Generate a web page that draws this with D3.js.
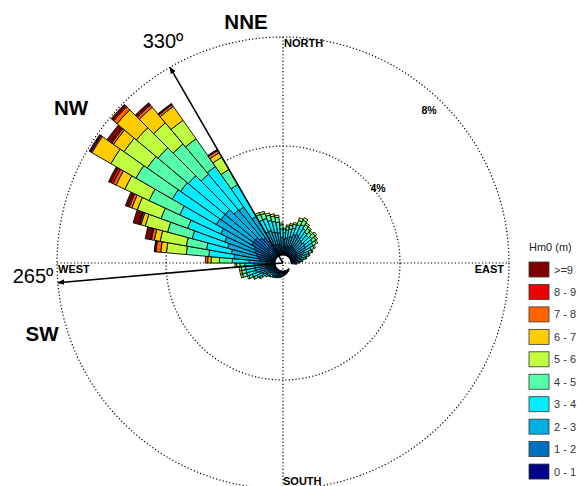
<!DOCTYPE html>
<html>
<head>
<meta charset="utf-8">
<script src="https://cdn.jsdelivr.net/npm/d3@7"></script>
<style>
  body { margin: 0; background: #fff; }
  svg { display: block; }
  text { font-family: "Liberation Sans", Arial, Helvetica, sans-serif; }
</style>
</head>
<body>
<svg id="chart" width="577" height="486"></svg>
<script>
// Direction bins (degrees, compass, bin centres; each bin 5 degrees wide)
const directions = [
  2.5, 7.5, 12.5, 17.5, 22.5, 27.5, 32.5, 37.5, 42.5, 47.5, 52.5, 57.5,
  62.5, 67.5, 72.5, 77.5, 82.5, 87.5, 92.5, 97.5, 102.5, 107.5, 112.5, 117.5,
  122.5, 127.5, 132.5, 137.5, 142.5, 147.5, 152.5, 157.5, 162.5, 167.5, 172.5, 177.5,
  182.5, 187.5, 192.5, 197.5, 202.5, 207.5, 212.5, 217.5, 222.5, 227.5, 232.5, 237.5,
  242.5, 247.5, 252.5, 257.5, 262.5, 267.5, 272.5, 277.5, 282.5, 287.5, 292.5, 297.5,
  302.5, 307.5, 312.5, 317.5, 322.5, 327.5, 332.5, 337.5, 342.5, 347.5, 352.5, 357.5
];

// Frequency of occurrence (%) per Hm0 class and direction bin
const hm0_0_1 = [
  .05,.05,.06,.06,.07,.07,.07,.06,.06,.06,.06,.06,.05,.04,.04,.03,.02,.02,
  .03,0,0,0,0,0,0,0,0,.01,.01,.01,.01,.02,.02,.02,.02,.02,
  .03,.03,.03,.03,.03,.03,.03,.04,.04,.04,.03,.04,.05,.05,.06,.06,.06,.06,
  .03,.02,.03,.03,.03,.05,.10,.10,.10,.07,.04,.02,.07,.07,.07,.07,.07,.05
];
const hm0_1_2 = [
  .22,.25,.26,.28,.32,.34,.31,.29,.28,.29,.28,.26,.22,.19,.16,.13,.10,.07,
  .08,0,0,0,0,0,0,0,0,.01,.02,.03,.03,.04,.04,.05,.06,.06,
  .07,.08,.09,.09,.10,.11,.11,.12,.13,.14,.11,.16,.20,.24,.29,.29,.29,.30,
  .30,.56,.62,.69,.76,.83,.93,.93,.93,.83,.78,.62,.38,.38,.35,.33,.31,.25
];
const hm0_2_3 = [
  .30,.33,.35,.37,.43,.45,.42,.40,.37,.40,.37,.35,.31,.27,.22,.18,.13,.10,
  .07,0,0,0,0,0,0,0,0,.01,.01,.02,.03,.03,.04,.05,.05,.06,
  .06,.07,.08,.09,.10,.10,.11,.12,.13,.14,.15,.22,.28,.33,.40,.40,.40,.40,
  .62,.93,.98,1.09,1.19,1.35,1.50,1.45,1.45,1.35,1.40,1.04,.52,.52,.48,.46,.44,.35
];
const hm0_3_4 = [
  .25,.29,.31,.32,.38,.40,.36,.34,.32,.34,.32,.31,.26,.23,.19,.15,.11,.09,
  .04,0,0,0,0,0,0,0,0,.01,.01,.01,.01,.01,.02,.02,.03,.03,
  .03,.03,.04,.04,.04,.05,.05,.05,.06,.07,.13,.19,.24,.29,.34,.34,.34,.35,
  .62,.93,.93,1.35,1.45,1.66,1.87,1.81,1.76,1.71,1.81,1.35,.48,.48,.43,.40,.39,.31
];
const hm0_4_5 = [
  .12,.13,.14,.15,.17,.18,.17,.16,.15,.16,.15,.14,.13,.11,.09,.07,.06,.04,
  0,0,0,0,0,0,0,0,0,0,0,0,0,0,0,0,0,.01,
  .01,.01,.01,.02,.02,.02,.03,.03,.03,.04,.07,.09,.11,.13,.16,.16,.16,.18,
  .47,.83,.75,.93,1.04,1.24,1.54,1.50,1.45,1.45,1.24,.64,.23,.20,.20,.20,.18,.15
];
const hm0_5_6 = [
  .05,.06,.06,.07,.10,.10,.07,.07,.07,.07,.07,.06,.05,.04,.03,.03,.02,.01,
  0,0,0,0,0,0,0,0,0,0,0,0,0,0,0,0,0,0,
  0,0,0,0,0,0,0,0,0,0,.02,.03,.04,.06,.07,.07,.07,.12,
  .31,.73,.97,.85,.93,.98,1.06,1.04,1.04,1.01,.83,.52,.08,.08,.08,.08,.08,.07
];
const hm0_6_7 = [
  0,0,0,0,0,0,0,0,0,0,0,0,0,0,0,0,0,0,
  0,0,0,0,0,0,0,0,0,0,0,0,0,0,0,0,0,0,
  0,0,0,0,0,0,0,0,0,0,0,0,0,0,0,0,0,.06,
  .12,.21,.22,.16,.21,.36,.80,.47,.93,.75,.62,.19,0,0,0,0,0,0
];
const hm0_7_8 = [
  0,0,0,0,0,0,0,0,0,0,0,0,0,0,0,0,0,0,
  0,0,0,0,0,0,0,0,0,0,0,0,0,0,0,0,0,0,
  0,0,0,0,0,0,0,0,0,0,0,0,0,0,0,0,0,0,
  .09,.18,.11,.05,.10,.12,.05,.08,.16,.10,.08,.10,0,0,0,0,0,0
];
const hm0_8_9 = [
  0,0,0,0,0,0,0,0,0,0,0,0,0,0,0,0,0,0,
  0,0,0,0,0,0,0,0,0,0,0,0,0,0,0,0,0,0,
  0,0,0,0,0,0,0,0,0,0,0,0,0,0,0,0,0,0,
  0,.04,.04,.04,.07,.10,.02,.05,.05,.05,.03,.03,0,0,0,0,0,0
];
const hm0_9_up = [
  0,0,0,0,0,0,0,0,0,0,0,0,0,0,0,0,0,0,
  0,0,0,0,0,0,0,0,0,0,0,0,0,0,0,0,0,0,
  0,0,0,0,0,0,0,0,0,0,0,0,0,0,0,0,0,0,
  0,.02,.19,.21,.08,.08,.05,.16,.07,.06,.02,.01,0,0,0,0,0,0
];

const classLabels = ["0 - 1", "1 - 2", "2 - 3", "3 - 4", "4 - 5", "5 - 6", "6 - 7", "7 - 8", "8 - 9", ">=9"];
const classColors = ["#000088", "#0070c0", "#00b0e0", "#00eeff", "#55ffaa", "#c0ff40", "#ffcc00", "#ff6600", "#ee0000", "#800000"];
const classSeries = [hm0_0_1, hm0_1_2, hm0_2_3, hm0_3_4, hm0_4_5, hm0_5_6, hm0_6_7, hm0_7_8, hm0_8_9, hm0_9_up];

const ringValues = [4, 8];
const ringLabels = ["4%", "8%"];

// Layout
const cx = 283, cy = 263;
const svg = d3.select("#chart");
const g = svg.append("g").attr("transform", `translate(${cx},${cy})`);

// Radial scale keeps a small empty hub around the centre
const rScale = d3.scaleLinear().domain([0, 8]).range([8, 226]);
const aScale = d3.scaleBand().domain(directions).range([0, 2 * Math.PI]).padding(0);
const toRad = d => d * Math.PI / 180;

// Stack classes for each direction
const keys = classLabels.map((_, i) => "c" + i);
const rows = directions.map((d, j) => {
  const row = { dir: d };
  classSeries.forEach((s, i) => { row["c" + i] = s[j]; });
  return row;
});
const stacked = d3.stack().keys(keys)(rows);

// Dotted grid: rings and compass axes
const dotted = "1.2,2.2";
g.selectAll("circle.ring").data(ringValues).join("circle")
  .attr("class", "ring")
  .attr("r", d => rScale(d))
  .attr("fill", "none").attr("stroke", "#000")
  .attr("stroke-width", 1.2).attr("stroke-dasharray", dotted);

const R = rScale(8);
g.append("line").attr("x1", 0).attr("y1", -R).attr("x2", 0).attr("y2", R)
  .attr("stroke", "#000").attr("stroke-width", 1.2).attr("stroke-dasharray", dotted);
g.append("line").attr("x1", -R).attr("y1", 0).attr("x2", R).attr("y2", 0)
  .attr("stroke", "#000").attr("stroke-width", 1.2).attr("stroke-dasharray", dotted);

// Bars: stacked segments per direction, from the hub outward
const arc = d3.arc();
const segs = [];
directions.forEach((d, j) => {
  stacked.forEach((layer, i) => {
    const p = layer[j];
    if (p[1] - p[0] > 0) {
      segs.push({
        cls: i,
        inner: rScale(p[0]),
        outer: rScale(p[1]),
        start: aScale(d),
        end: aScale(d) + aScale.bandwidth()
      });
    }
  });
});
g.append("g").selectAll("path").data(segs).join("path")
  .attr("d", s => arc({ innerRadius: s.inner, outerRadius: s.outer, startAngle: s.start, endAngle: s.end }))
  .attr("fill", s => classColors[s.cls])
  .attr("stroke", "#000").attr("stroke-width", 0.9).attr("stroke-linejoin", "miter");

// Ring labels
const ringLabelPos = [[95, -71], [146, -149]];
g.selectAll("text.rl").data(ringLabels).join("text")
  .attr("class", "rl")
  .attr("x", (d, i) => ringLabelPos[i][0]).attr("y", (d, i) => ringLabelPos[i][1])
  .attr("text-anchor", "middle").attr("font-size", 10.5).attr("font-weight", "bold")
  .text(d => d);

// Compass labels
const compass = [
  { t: "NORTH", x: 1, y: -216, a: "start" },
  { t: "WEST", x: -225, y: 10, a: "start" },
  { t: "EAST", x: 221, y: 10, a: "end" },
  { t: "SOUTH", x: 0, y: 222, a: "start" }
];
g.selectAll("text.cp").data(compass).join("text")
  .attr("class", "cp")
  .attr("x", d => d.x).attr("y", d => d.y)
  .attr("text-anchor", d => d.a).attr("font-size", 11).attr("font-weight", "bold")
  .text(d => d.t);

// Reference directions with arrows
const markers = [
  { deg: 330, label: "330º", lx: 163, ly: 48 },
  { deg: 265, label: "265º", lx: 33, ly: 283 }
];
svg.append("defs").append("marker")
  .attr("id", "head").attr("viewBox", "0 0 10 10")
  .attr("refX", 9).attr("refY", 5)
  .attr("markerWidth", 7).attr("markerHeight", 7)
  .attr("markerUnits", "userSpaceOnUse")
  .attr("orient", "auto")
  .append("path").attr("d", "M0,1 L10,5 L0,9 Z").attr("fill", "#000");

g.selectAll("line.arrow").data(markers).join("line")
  .attr("class", "arrow")
  .attr("x1", 0).attr("y1", 0)
  .attr("x2", d => R * Math.sin(toRad(d.deg)))
  .attr("y2", d => -R * Math.cos(toRad(d.deg)))
  .attr("stroke", "#000").attr("stroke-width", 1.6)
  .attr("marker-end", "url(#head)");

svg.selectAll("text.mk").data(markers).join("text")
  .attr("class", "mk")
  .attr("x", d => d.lx).attr("y", d => d.ly)
  .attr("text-anchor", "middle").attr("font-size", 20)
  .text(d => d.label);

// Sector names
const sectors = [
  { t: "NNE", x: 246, y: 29 },
  { t: "NW", x: 71, y: 115 },
  { t: "SW", x: 42, y: 341 }
];
svg.selectAll("text.sec").data(sectors).join("text")
  .attr("class", "sec")
  .attr("x", d => d.x).attr("y", d => d.y)
  .attr("text-anchor", "middle").attr("font-size", 20.5).attr("font-weight", "bold")
  .text(d => d.t);

// Legend
const legend = svg.append("g").attr("transform", "translate(529,0)");
legend.append("text").attr("x", 0).attr("y", 251).attr("font-size", 11).attr("fill", "#222").text("Hm0 (m)");
const legendOrder = d3.range(classLabels.length).reverse();
const ly = d3.scaleBand().domain(legendOrder).range([262, 486.5]).paddingInner(0);
legendOrder.forEach(i => {
  const y = ly(i);
  legend.append("rect").attr("x", 0).attr("y", y).attr("width", 20).attr("height", 15)
    .attr("fill", classColors[i]).attr("stroke", "#333").attr("stroke-width", 0.8);
  legend.append("text").attr("x", 25).attr("y", y + 11.5).attr("font-size", 11).attr("fill", "#333")
    .text(classLabels[i]);
});
</script>
</body>
</html>
